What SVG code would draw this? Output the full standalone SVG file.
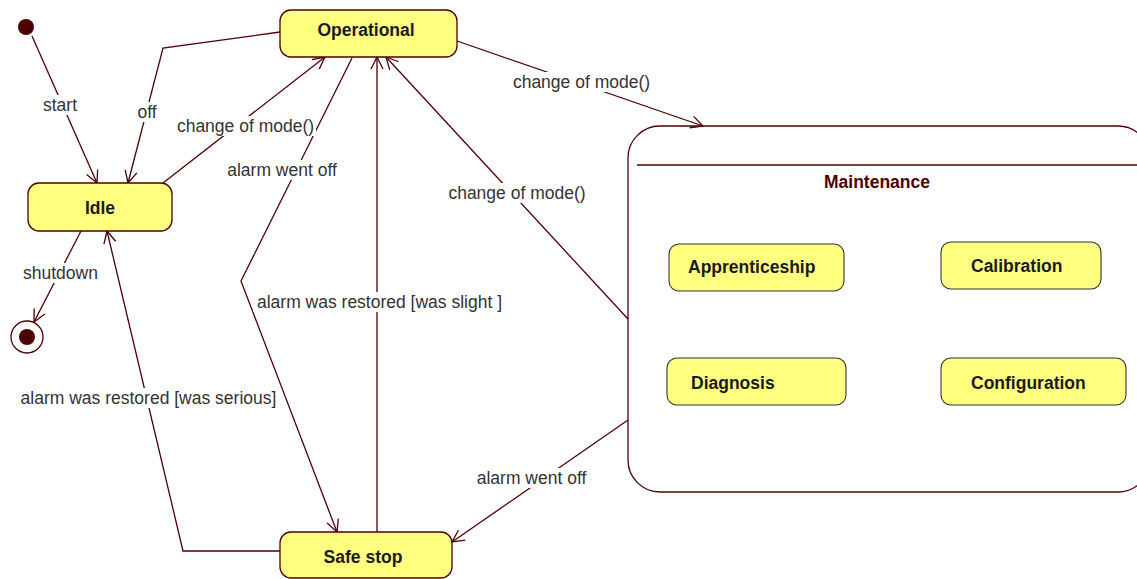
<svg xmlns="http://www.w3.org/2000/svg" width="1137" height="579" viewBox="0 0 1137 579">
<style>
.node rect{fill:#ffff80;stroke:#4d0000;stroke-width:1.3}
.inner rect{fill:#ffff80;stroke:#333;stroke-width:1.1}
.nt{font-family:"Liberation Sans",Arial,sans-serif;font-weight:bold;font-size:17.5px;fill:#1a1a1a}
.lbl{font-family:"Liberation Sans",Arial,sans-serif;font-size:17.5px;fill:#333;text-anchor:middle}
.edge{fill:none;stroke:#4d0000;stroke-width:1.3}
.bg{fill:#fff}
</style>
<defs>
<marker id="arr" markerUnits="userSpaceOnUse" viewBox="0 0 14 14" markerWidth="14" markerHeight="14" refX="13" refY="7" orient="auto">
<path d="M1,1 L13,7 L1,13" fill="none" stroke="#4d0000" stroke-width="1.3"/>
</marker>
</defs>
<rect width="1137" height="579" fill="#fff"/>

<g id="connectors">
<polyline class="edge" points="32,36 97,183" marker-end="url(#arr)"/>
<polyline class="edge" points="280,32 163,48 128,183" marker-end="url(#arr)"/>
<polyline class="edge" points="163,183 325,57" marker-end="url(#arr)"/>
<polyline class="edge" points="352,58 241,281 337,532" marker-end="url(#arr)"/>
<polyline class="edge" points="377,532 377,57" marker-end="url(#arr)"/>
<polyline class="edge" points="280,551 183,551 107,231" marker-end="url(#arr)"/>
<polyline class="edge" points="81,231 34,322" marker-end="url(#arr)"/>
<polyline class="edge" points="457,41 703,126" marker-end="url(#arr)"/>
<polyline class="edge" points="628,319 386,57" marker-end="url(#arr)"/>
<polyline class="edge" points="628,420 452,542" marker-end="url(#arr)"/>

<rect class="bg" x="41" y="95" width="39" height="20"/>
<text class="lbl" x="60" y="111">start</text>
<rect class="bg" x="136" y="102" width="23" height="20"/>
<text class="lbl" x="147" y="118">off</text>
<rect class="bg" x="175" y="116" width="141" height="20"/>
<text class="lbl" x="245.5" y="132">change of mode()</text>
<rect class="bg" x="225" y="160" width="114" height="20"/>
<text class="lbl" x="282" y="176">alarm went off</text>
<rect class="bg" x="253" y="292" width="253" height="20"/>
<text class="lbl" x="379.5" y="308">alarm was restored [was slight ]</text>
<rect class="bg" x="17" y="388" width="263" height="20"/>
<text class="lbl" x="148.5" y="404">alarm was restored [was serious]</text>
<rect class="bg" x="21" y="263" width="79" height="20"/>
<text class="lbl" x="60.5" y="279">shutdown</text>
<rect class="bg" x="510" y="72" width="143" height="20"/>
<text class="lbl" x="581.5" y="88">change of mode()</text>
<rect class="bg" x="446" y="183" width="142" height="20"/>
<text class="lbl" x="517" y="199">change of mode()</text>
<rect class="bg" x="474" y="468" width="115" height="20"/>
<text class="lbl" x="531.5" y="484">alarm went off</text>
</g>

<g id="initial">
<circle cx="26" cy="27" r="8" fill="#4d0000"/>
</g>
<g id="final">
<circle cx="27" cy="337" r="16" fill="#fff" stroke="#4d0000" stroke-width="1.3"/>
<circle cx="27" cy="337" r="8" fill="#4d0000"/>
</g>

<g id="operational" class="node">
<rect x="280" y="10" width="177" height="47" rx="11"/>
<text class="nt" x="366" y="36" text-anchor="middle">Operational</text>
</g>
<g id="idle" class="node">
<rect x="28" y="183" width="144" height="48" rx="11"/>
<text class="nt" x="100" y="214" text-anchor="middle">Idle</text>
</g>
<g id="safestop" class="node">
<rect x="280" y="532" width="172" height="46" rx="11"/>
<text class="nt" x="363" y="563" text-anchor="middle">Safe stop</text>
</g>

<g id="maintenance">
<rect x="628" y="126" width="522" height="366" rx="32" fill="none" stroke="#4d0000" stroke-width="1.3"/>
<line x1="637" y1="165" x2="1137" y2="165" stroke="#4d0000" stroke-width="1.3"/>
<text x="877" y="188" text-anchor="middle" font-family="Liberation Sans,Arial,sans-serif" font-weight="bold" font-size="17.5" fill="#4d0000">Maintenance</text>
</g>
<g id="apprenticeship" class="inner">
<rect x="669" y="244" width="175" height="47" rx="10"/>
<text class="nt" x="688" y="273">Apprenticeship</text>
</g>
<g id="calibration" class="inner">
<rect x="941" y="242" width="160" height="47" rx="10"/>
<text class="nt" x="971" y="272">Calibration</text>
</g>
<g id="diagnosis" class="inner">
<rect x="667" y="358" width="179" height="47" rx="10"/>
<text class="nt" x="691" y="389">Diagnosis</text>
</g>
<g id="configuration" class="inner">
<rect x="941" y="358" width="185" height="47" rx="10"/>
<text class="nt" x="971" y="389">Configuration</text>
</g>
</svg>
